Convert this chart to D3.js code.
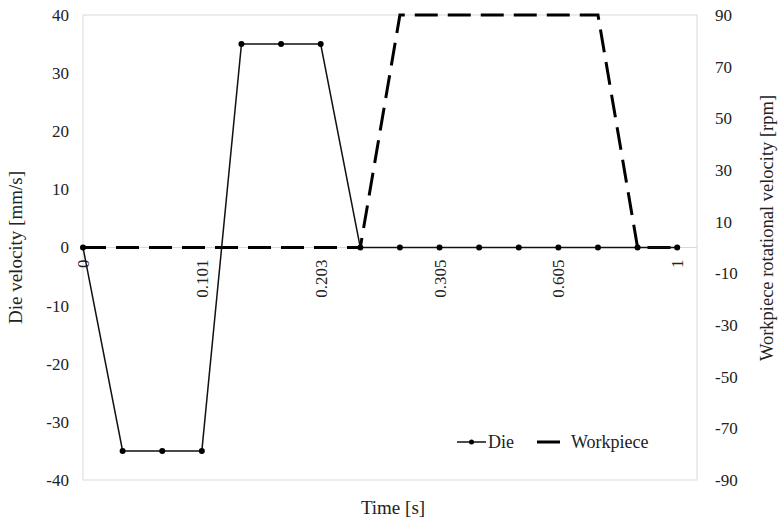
<!DOCTYPE html>
<html>
<head>
<meta charset="utf-8">
<script src="https://cdn.jsdelivr.net/npm/d3@7"></script>
<style>
  html, body { margin: 0; padding: 0; background: #fff; }
  svg text { font-family: "Liberation Serif", "Times New Roman", serif; fill: #222; }
</style>
</head>
<body>
<svg id="chart" width="783" height="523"></svg>
<script>
// ---- data ----
const categories = d3.range(16);               // time sample index
const timeLabels = ["0", "", "", "0.101", "", "", "0.203", "", "", "0.305", "", "", "0.605", "", "", "1"];
const dieVelocity = [0, -35, -35, -35, 35, 35, 35, 0, 0, 0, 0, 0, 0, 0, 0, 0];
const workpieceRpm = [0, 0, 0, 0, 0, 0, 0, 0, 90, 90, 90, 90, 90, 90, 0, 0];
const leftTicks = [-40, -30, -20, -10, 0, 10, 20, 30, 40];
const rightTicks = [-90, -70, -50, -30, -10, 10, 30, 50, 70, 90];

// ---- layout ----
const svg = d3.select("#chart");
const L = 83, R = 697, T = 15, B = 480;

const x = d3.scaleLinear().domain([0, 15.5]).range([L, R]);
const yL = d3.scaleLinear().domain([-40, 40]).range([B, T]);
const yR = d3.scaleLinear().domain([-90, 90]).range([B, T]);
const fmt = d => String(d);

// plot border
svg.append("rect").attr("x", L).attr("y", T).attr("width", R - L).attr("height", B - T)
  .attr("fill", "none").attr("stroke", "#d9d9d9").attr("stroke-width", 1);

// category axis line at zero
svg.append("line").attr("x1", L).attr("x2", R).attr("y1", yL(0)).attr("y2", yL(0))
  .attr("stroke", "#d9d9d9").attr("stroke-width", 1);

// left axis
const leftAxis = d3.axisLeft(yL).tickValues(leftTicks).tickFormat(fmt).tickSize(0).tickPadding(14);
const gl = svg.append("g").attr("transform", `translate(${L},0)`).call(leftAxis);
gl.select(".domain").remove();
gl.selectAll("text").style("font-size", "17px").attr("fill", "#222");

// right axis
const rightAxis = d3.axisRight(yR).tickValues(rightTicks).tickFormat(fmt).tickSize(0).tickPadding(18);
const gr = svg.append("g").attr("transform", `translate(${R},0)`).call(rightAxis);
gr.select(".domain").remove();
gr.selectAll("text").style("font-size", "17px").attr("fill", "#222");

// x tick labels (rotated)
const xAxis = d3.axisBottom(x).tickValues(categories).tickFormat((d, i) => timeLabels[d]).tickSize(0);
const gx = svg.append("g").attr("transform", `translate(0,${yL(0)})`).call(xAxis);
gx.select(".domain").remove();
gx.selectAll("text")
  .style("font-size", "17px")
  .attr("fill", "#222")
  .attr("text-anchor", "end")
  .attr("dy", null)
  .attr("dominant-baseline", "central")
  .attr("transform", "rotate(-90)")
  .attr("x", -12)
  .attr("y", 0);

// workpiece dashed line
const lineR = d3.line().x((d, i) => x(categories[i])).y(d => yR(d));
svg.append("path").datum(workpieceRpm).attr("d", lineR)
  .attr("fill", "none").attr("stroke", "#000").attr("stroke-width", 3)
  .attr("stroke-dasharray", "23,10");

// die line
const lineL = d3.line().x((d, i) => x(categories[i])).y(d => yL(d));
svg.append("path").datum(dieVelocity).attr("d", lineL)
  .attr("fill", "none").attr("stroke", "#111").attr("stroke-width", 1.5);
svg.selectAll("circle.die").data(dieVelocity).enter().append("circle")
  .attr("class", "die")
  .attr("cx", (d, i) => x(categories[i])).attr("cy", d => yL(d)).attr("r", 3)
  .attr("fill", "#000");

// axis titles
svg.append("text").attr("transform", `translate(22,${(T + B) / 2}) rotate(-90)`)
  .attr("text-anchor", "middle").style("font-size", "19px").text("Die velocity [mm/s]");
svg.append("text").attr("transform", `translate(773,228) rotate(-90)`)
  .attr("text-anchor", "middle").style("font-size", "18.5px").text("Workpiece rotational velocity [rpm]");
svg.append("text").attr("x", 393).attr("y", 514)
  .attr("text-anchor", "middle").style("font-size", "19px").text("Time [s]");

// legend
const ly = 442;
const lg = svg.append("g");
lg.append("line").attr("x1", 457).attr("x2", 486).attr("y1", ly).attr("y2", ly)
  .attr("stroke", "#111").attr("stroke-width", 1.5);
lg.append("circle").attr("cx", 471.5).attr("cy", ly).attr("r", 2.5).attr("fill", "#000");
lg.append("text").attr("x", 488).attr("y", ly).attr("dominant-baseline", "central")
  .style("font-size", "18px").text("Die");
lg.append("line").attr("x1", 537).attr("x2", 560).attr("y1", ly).attr("y2", ly)
  .attr("stroke", "#000").attr("stroke-width", 3);
lg.append("text").attr("x", 571).attr("y", ly).attr("dominant-baseline", "central")
  .style("font-size", "18px").text("Workpiece");
</script>
</body>
</html>
